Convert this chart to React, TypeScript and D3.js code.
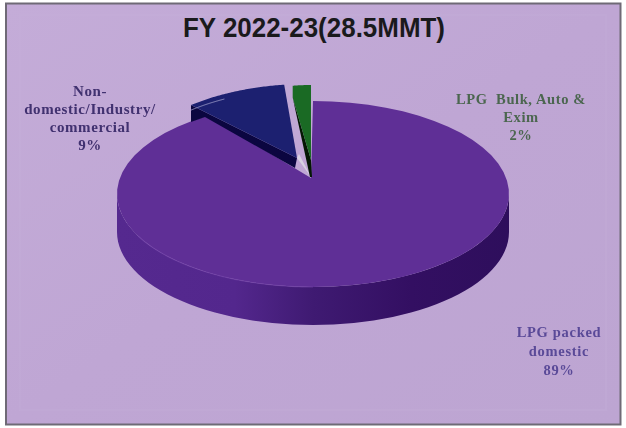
import React from "react";
import * as d3 from "d3";

const categories = ["LPG packed domestic", "Non-domestic/Industry/commercial", "LPG Bulk, Auto & Exim"];
const shares = [89, 9, 2];
const titleText = "FY 2022-23(28.5MMT)";
const labelLines = [
  ["LPG packed", "domestic", "89%"],
  ["Non-", "domestic/Industry/", "commercial", "9%"],
  ["LPG  Bulk, Auto &", "Exim", "2%"],
];

const W = 626;
const H = 428;

// Each slice is exploded by its own amount; the tilted perspective puts the tip above the ellipse centre.
const geoms = [
  { cx: 313, cy: 194, rx: 196, ry: 93, tip: [-2, -16], depth: 38 },
  { cx: 307, cy: 176, rx: 182, ry: 92, tip: [-10, -18], depth: 14 },
  { cx: 311, cy: 177, rx: 146, ry: 92, tip: [0, -17], depth: 15 },
];
const labelPos = [
  { x: 559, y: 337, fill: "#5a4a98", size: 14.5, spacing: 0.7 },
  { x: 90, y: 96, fill: "#41306f", size: 15, spacing: 0.6 },
  { x: 521, y: 104, fill: "#4c6650", size: 14.5, spacing: 0.6 },
];
const lineGaps = [19, 18, 18];
const perspectiveShift = 0.12;

type Geom = (typeof geoms)[number];
const arcPts = (g: Geom, a0: number, a1: number, dy = 0): [number, number][] =>
  d3.range(0, 61).map((i) => {
    const a = a0 + ((a1 - a0) * i) / 60;
    return [g.cx + g.rx * Math.sin(a), g.cy + dy - g.ry * Math.cos(a)] as [number, number];
  });

const line = d3.line();

export default function App() {
  const pie = d3.pie<number>().sort(null)(shares);
  const [main, mid, small] = pie;
  const g0 = geoms[0];
  const g1 = geoms[1];
  const g2 = geoms[2];

  const mainTip: [number, number] = [g0.cx + g0.tip[0], g0.cy + g0.tip[1]];
  const mainFace = line([...arcPts(g0, main.startAngle, main.endAngle + perspectiveShift), mainTip]) + "Z";
  const wall =
    line([
      ...arcPts(g0, Math.PI / 2, (3 * Math.PI) / 2),
      ...arcPts(g0, (3 * Math.PI) / 2, Math.PI / 2, g0.depth),
    ]) + "Z";
  const rimLeft = line(arcPts(g0, 1.35 * Math.PI, 1.0 * Math.PI)) as string;

  const midTip: [number, number] = [g1.cx + g1.tip[0], g1.cy + g1.tip[1]];
  const midArc = arcPts(g1, mid.startAngle, mid.endAngle);
  const midFace = line([...midArc, midTip]) + "Z";
  const midStart = midArc[0];
  const midWall =
    line([
      midStart,
      [midStart[0], midStart[1] + g1.depth + 3],
      [midStart[0] + 14, midStart[1] + g1.depth - 2],
      [midTip[0] - 2, midTip[1] + g1.depth - 4],
      midTip,
    ]) + "Z";
  const midRim = line(arcPts(g1, mid.startAngle, mid.startAngle + 0.22).map(([x, y]) => [x, y + 5] as [number, number])) as string;

  const smallTip: [number, number] = [g2.cx + g2.tip[0], g2.cy + g2.tip[1]];
  const smallArc = arcPts(g2, small.startAngle, small.endAngle);
  const smallFace = line([smallArc[0], ...smallArc, smallTip, [smallArc[0][0], smallArc[0][1] + 12]]) + "Z";
  const smallWall =
    line([
      [smallArc[0][0], smallArc[0][1] + 12],
      [smallTip[0] - 1, smallTip[1] + g2.depth + 2],
      [smallTip[0] + 1, smallTip[1] + g2.depth + 2],
      smallTip,
    ]) + "Z";
  const sliver = line([midTip, [midTip[0] + 6, midTip[1] + 8], [smallTip[0], smallTip[1] + g2.depth + 2], [midTip[0] + 2, midTip[1] - 4]]) + "Z";

  return (
    <svg
      width={W}
      height={H}
      viewBox={`0 0 ${W} ${H}`}
      style={{ position: "fixed", left: 0, top: 0, display: "block", background: "#fff" }}
    >
      <defs>
        <linearGradient id="bg" x1="0" y1="0" x2="1" y2="1">
          <stop offset="0" stopColor="#c4acd8" />
          <stop offset="0.5" stopColor="#bfa6d4" />
          <stop offset="1" stopColor="#bda5d2" />
        </linearGradient>
        <linearGradient id="wallFill" gradientUnits="userSpaceOnUse" x1={g0.cx - g0.rx} y1="0" x2={g0.cx + g0.rx} y2="0">
          <stop offset="0" stopColor="#55298f" />
          <stop offset="0.3" stopColor="#53278d" />
          <stop offset="0.5" stopColor="#3f1a72" />
          <stop offset="0.75" stopColor="#330f62" />
          <stop offset="1" stopColor="#2e0e5c" />
        </linearGradient>
        <filter id="soft" x="-5%" y="-5%" width="110%" height="110%">
          <feGaussianBlur stdDeviation="0.45" />
        </filter>
      </defs>
      <rect x={6} y={3.5} width={614.5} height={421} fill="url(#bg)" stroke="#6f6a76" strokeWidth={2} />
      <rect x={20} y={15} width={586} height={395} fill="none" stroke="#c9b4da" strokeWidth={2} opacity={0.2} />

      <path d={wall} fill="url(#wallFill)" />
      <path d={mainFace} fill="#5f2f96" />
      <path d={rimLeft} fill="none" stroke="#7342a8" strokeWidth={1.2} opacity={0.6} />

      <path d={sliver} fill="#d8d2e2" />
      <path d={midWall} fill="#0b0640" />
      <path d={midFace} fill="#1c2070" />
      <path d={midRim} fill="none" stroke="#a7a6cf" strokeWidth={1} opacity={0.8} />
      <path d={smallWall} fill="#041804" />
      <path d={smallFace} fill="#1a6a24" />

      <text
        x={314}
        y={37}
        textAnchor="middle"
        fontFamily="'Liberation Sans Narrow', 'Liberation Sans', sans-serif"
        fontWeight={700}
        fontSize={27}
        fill="#1a1a1c"
        textLength={262}
        lengthAdjust="spacingAndGlyphs"
      >
        {titleText}
      </text>

      <g filter="url(#soft)" fontFamily="'Liberation Serif', serif" fontWeight={700} textAnchor="middle">
        {labelLines.map((lines, i) => (
          <text key={categories[i]} fill={labelPos[i].fill} fontSize={labelPos[i].size} letterSpacing={labelPos[i].spacing}>
            {lines.map((t, j) => (
              <tspan key={j} x={labelPos[i].x} y={labelPos[i].y + j * lineGaps[i]} xmlSpace="preserve">
                {t}
              </tspan>
            ))}
          </text>
        ))}
      </g>
    </svg>
  );
}
